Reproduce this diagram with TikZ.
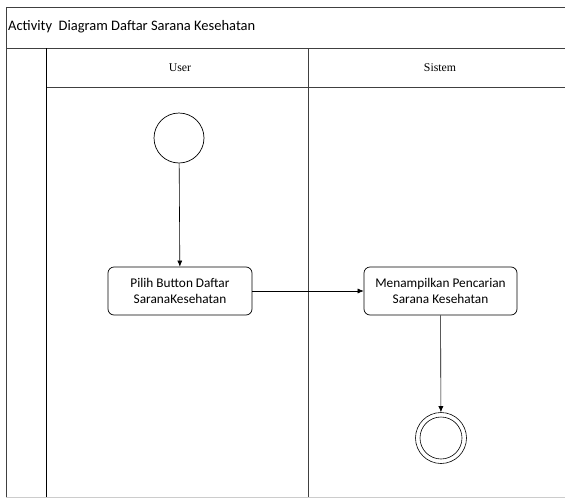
\documentclass[tikz,border=0pt]{standalone}
\usepackage{fontspec}
\setmainfont{Carlito}
\newfontfamily\lanefont{Liberation Serif}
\usetikzlibrary{arrows.meta}
\begin{document}
\begin{tikzpicture}[x=1pt,y=-1pt,
  frame/.style={draw=black!75,line width=0.9pt},
  lanehead/.style={font=\lanefont\fontsize{11.8}{13}\selectfont},
  action/.style={draw,rounded corners=6pt,line width=0.7pt,minimum width=144pt,minimum height=48pt,align=center,font=\fontsize{13.3}{16.5}\selectfont,inner sep=2pt},
  flow/.style={-{Latex[length=6pt,width=5pt]},line width=0.6pt}]
\useasboundingbox (0,0) rectangle (565,498);
% frame
\draw[frame] (6,7) -- (565,7);
\draw[frame] (6,7) -- (6,497);
\draw[frame] (6,48) -- (565,48);
\draw[frame] (46,87) -- (565,87);
\draw[line width=0.8pt] (46,48) -- (46,497);
\draw[frame] (308,48) -- (308,497);
\draw[draw=black!20,line width=0.8pt] (6,497) -- (565,497);
\node[anchor=west,font=\fontsize{14.5}{16}\selectfont,inner sep=0pt] (title) at (8,27) {Activity\ \ Diagram Daftar Sarana Kesehatan};
\node[lanehead] (user) at (180,68) {User};
\node[lanehead] (sistem) at (440,68) {Sistem};
% nodes
\node[circle,draw,line width=0.7pt,minimum size=50pt,inner sep=0pt] (start) at (179,138) {};
\node[action] (a1) at (180,291) {Pilih Button Daftar\\SaranaKesehatan};
\node[action,minimum width=153pt] (a2) at (440.5,291) {Menampilkan Pencarian\\Sarana Kesehatan};
\node[circle,draw,line width=0.6pt,minimum size=51pt,inner sep=0pt] (endo) at (441,438) {};
\node[circle,draw,line width=0.6pt,minimum size=42pt,inner sep=0pt] (endi) at (441,438) {};
% flows
\draw[flow] (start) -- (a1);
\draw[flow] (a1) -- (a2);
\draw[flow] (a2) -- (endo);
\end{tikzpicture}
\end{document}
